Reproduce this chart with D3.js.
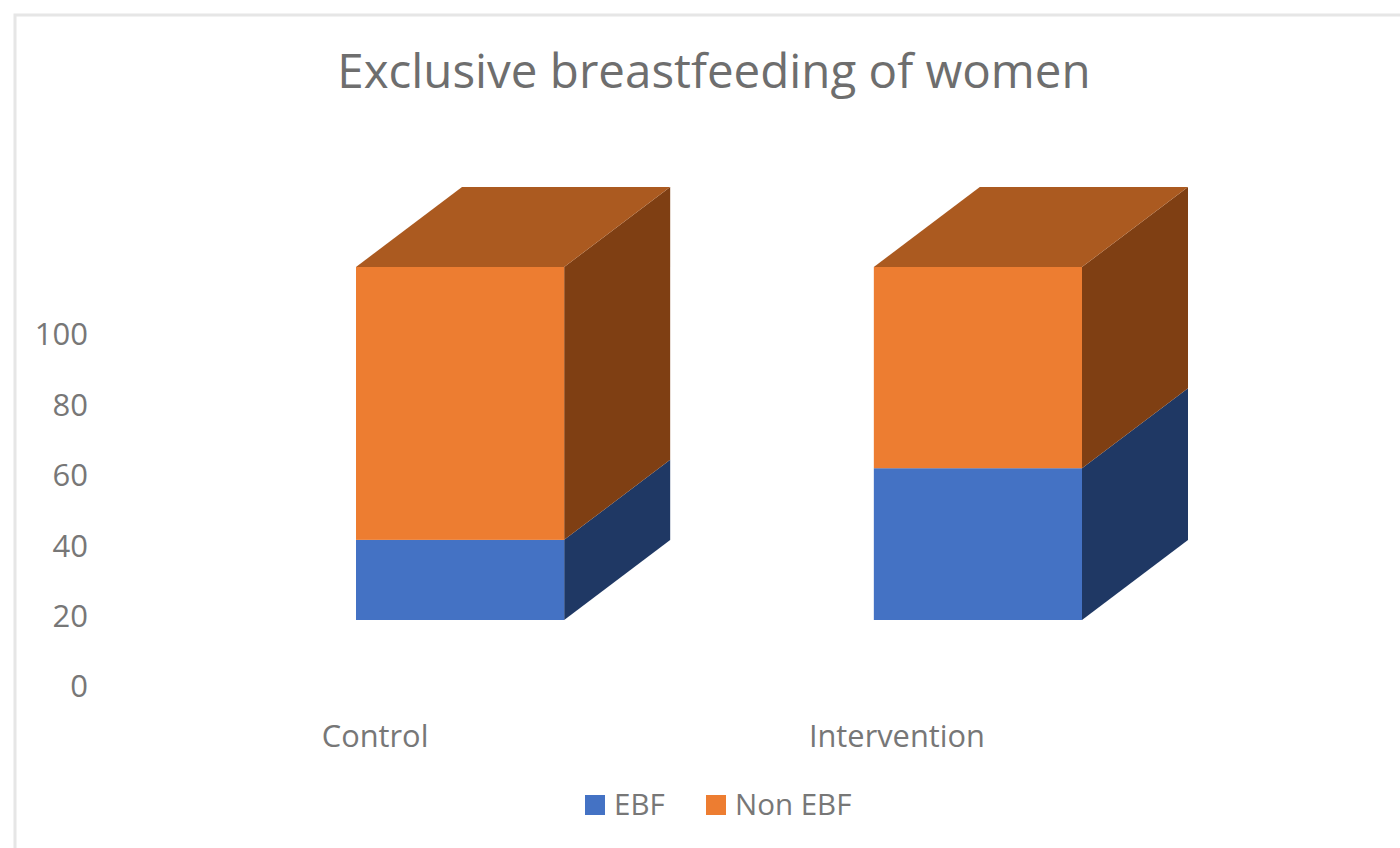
<!DOCTYPE html>
<html>
<head>
<meta charset="utf-8">
<script src="https://cdn.jsdelivr.net/npm/d3@7"></script>
<style>
    html, body { margin: 0; padding: 0; background: #fff; }
    svg { display: block; }
    text { font-family: "Open Sans", sans-serif; fill: #777; }
    .title { fill: #6e6e6e; }
</style>
</head>
<body>
<div id="chart"></div>
<script>
// values
const categories = ["Control", "Intervention"];
const seriesNames = ["EBF", "Non EBF"];
const ebf = [22.7, 43];
const nonEbf = [77.3, 57];
const yTicks = [0, 20, 40, 60, 80, 100];

const front = ["#4472c4", "#ed7d31"];
const side = ["#1f3864", "#7f3f13"];
const top_ = "#ab5a20";

const width = 1400, height = 848;
const depthX = 106, depthY = -80;

const svg = d3.select("#chart").append("svg")
    .attr("width", width)
    .attr("height", height);

// chart frame, runs off the right and bottom of the picture
svg.append("rect")
    .attr("x", 15)
    .attr("y", 15)
    .attr("width", width)
    .attr("height", height)
    .attr("fill", "#fff")
    .attr("stroke", "#e6e6e6")
    .attr("stroke-width", 3);

svg.append("text")
    .attr("class", "title")
    .attr("x", 714)
    .attr("y", 88)
    .attr("text-anchor", "middle")
    .attr("font-size", 47.5)
    .text("Exclusive breastfeeding of women");

const xScale = d3.scaleBand()
    .domain(categories)
    .range([356, 1082])
    .paddingInner(0.598);

// bars sit on the front plane, the axis is drawn lower down on the back plane
const yScale = d3.scaleLinear().domain([0, 100]).range([620, 267]);
const yAxisScale = d3.scaleLinear().domain([0, 100]).range([686, 334]);

const rows = categories.map((c, i) => ({ category: c, EBF: ebf[i], "Non EBF": nonEbf[i] }));
const stacked = d3.stack().keys(seriesNames)(rows);

const poly = pts => "M" + pts.map(p => p.join(",")).join("L") + "Z";

const series = svg.selectAll(".series")
    .data(stacked)
    .join("g")
    .attr("class", "series");

series.each(function (s, i) {
    const g = d3.select(this);

    // right side
    g.selectAll(".side")
        .data(s)
        .join("path")
        .attr("class", "side")
        .attr("fill", side[i])
        .attr("d", d => {
            const x = xScale(d.data.category) + xScale.bandwidth();
            return poly([
                [x, yScale(d[0])],
                [x + depthX, yScale(d[0]) + depthY],
                [x + depthX, yScale(d[1]) + depthY],
                [x, yScale(d[1])]
            ]);
        });

    // front
    g.selectAll(".front")
        .data(s)
        .join("rect")
        .attr("class", "front")
        .attr("fill", front[i])
        .attr("x", d => xScale(d.data.category))
        .attr("y", d => yScale(d[1]))
        .attr("width", xScale.bandwidth())
        .attr("height", d => yScale(d[0]) - yScale(d[1]));

    // lid only on the top segment
    if (i === stacked.length - 1) {
        g.selectAll(".lid")
            .data(s)
            .join("path")
            .attr("class", "lid")
            .attr("fill", top_)
            .attr("d", d => {
                const x = xScale(d.data.category);
                const y = yScale(d[1]);
                return poly([
                    [x, y],
                    [x + depthX, y + depthY],
                    [x + xScale.bandwidth() + depthX, y + depthY],
                    [x + xScale.bandwidth(), y]
                ]);
            });
    }
});

// y axis labels
const yAxis = d3.axisLeft(yAxisScale).tickValues(yTicks).tickSize(0).tickPadding(0);
const yG = svg.append("g")
    .attr("transform", "translate(88,0)")
    .call(yAxis);
yG.select(".domain").remove();
yG.attr("font-family", null);
yG.selectAll("text")
    .attr("font-size", 31)
    .attr("dy", "0.35em");

// x labels sit left of the bars, not quite the same shift for both
const labelShift = [-85, -81];
svg.selectAll(".x-label")
    .data(categories)
    .join("text")
    .attr("class", "x-label")
    .attr("x", (d, i) => xScale(d) + xScale.bandwidth() / 2 + labelShift[i])
    .attr("y", 747)
    .attr("text-anchor", "middle")
    .attr("font-size", 30.8)
    .text(d => d);

// legend
const legendX = [585, 706];
const legend = svg.selectAll(".legend")
    .data(seriesNames)
    .join("g")
    .attr("class", "legend")
    .attr("transform", (d, i) => `translate(${legendX[i]},795)`);
legend.append("rect")
    .attr("width", 20)
    .attr("height", 20)
    .attr("fill", (d, i) => front[i]);
legend.append("text")
    .attr("x", 29)
    .attr("y", 20)
    .attr("font-size", 29.5)
    .text(d => d);
</script>
</body>
</html>
